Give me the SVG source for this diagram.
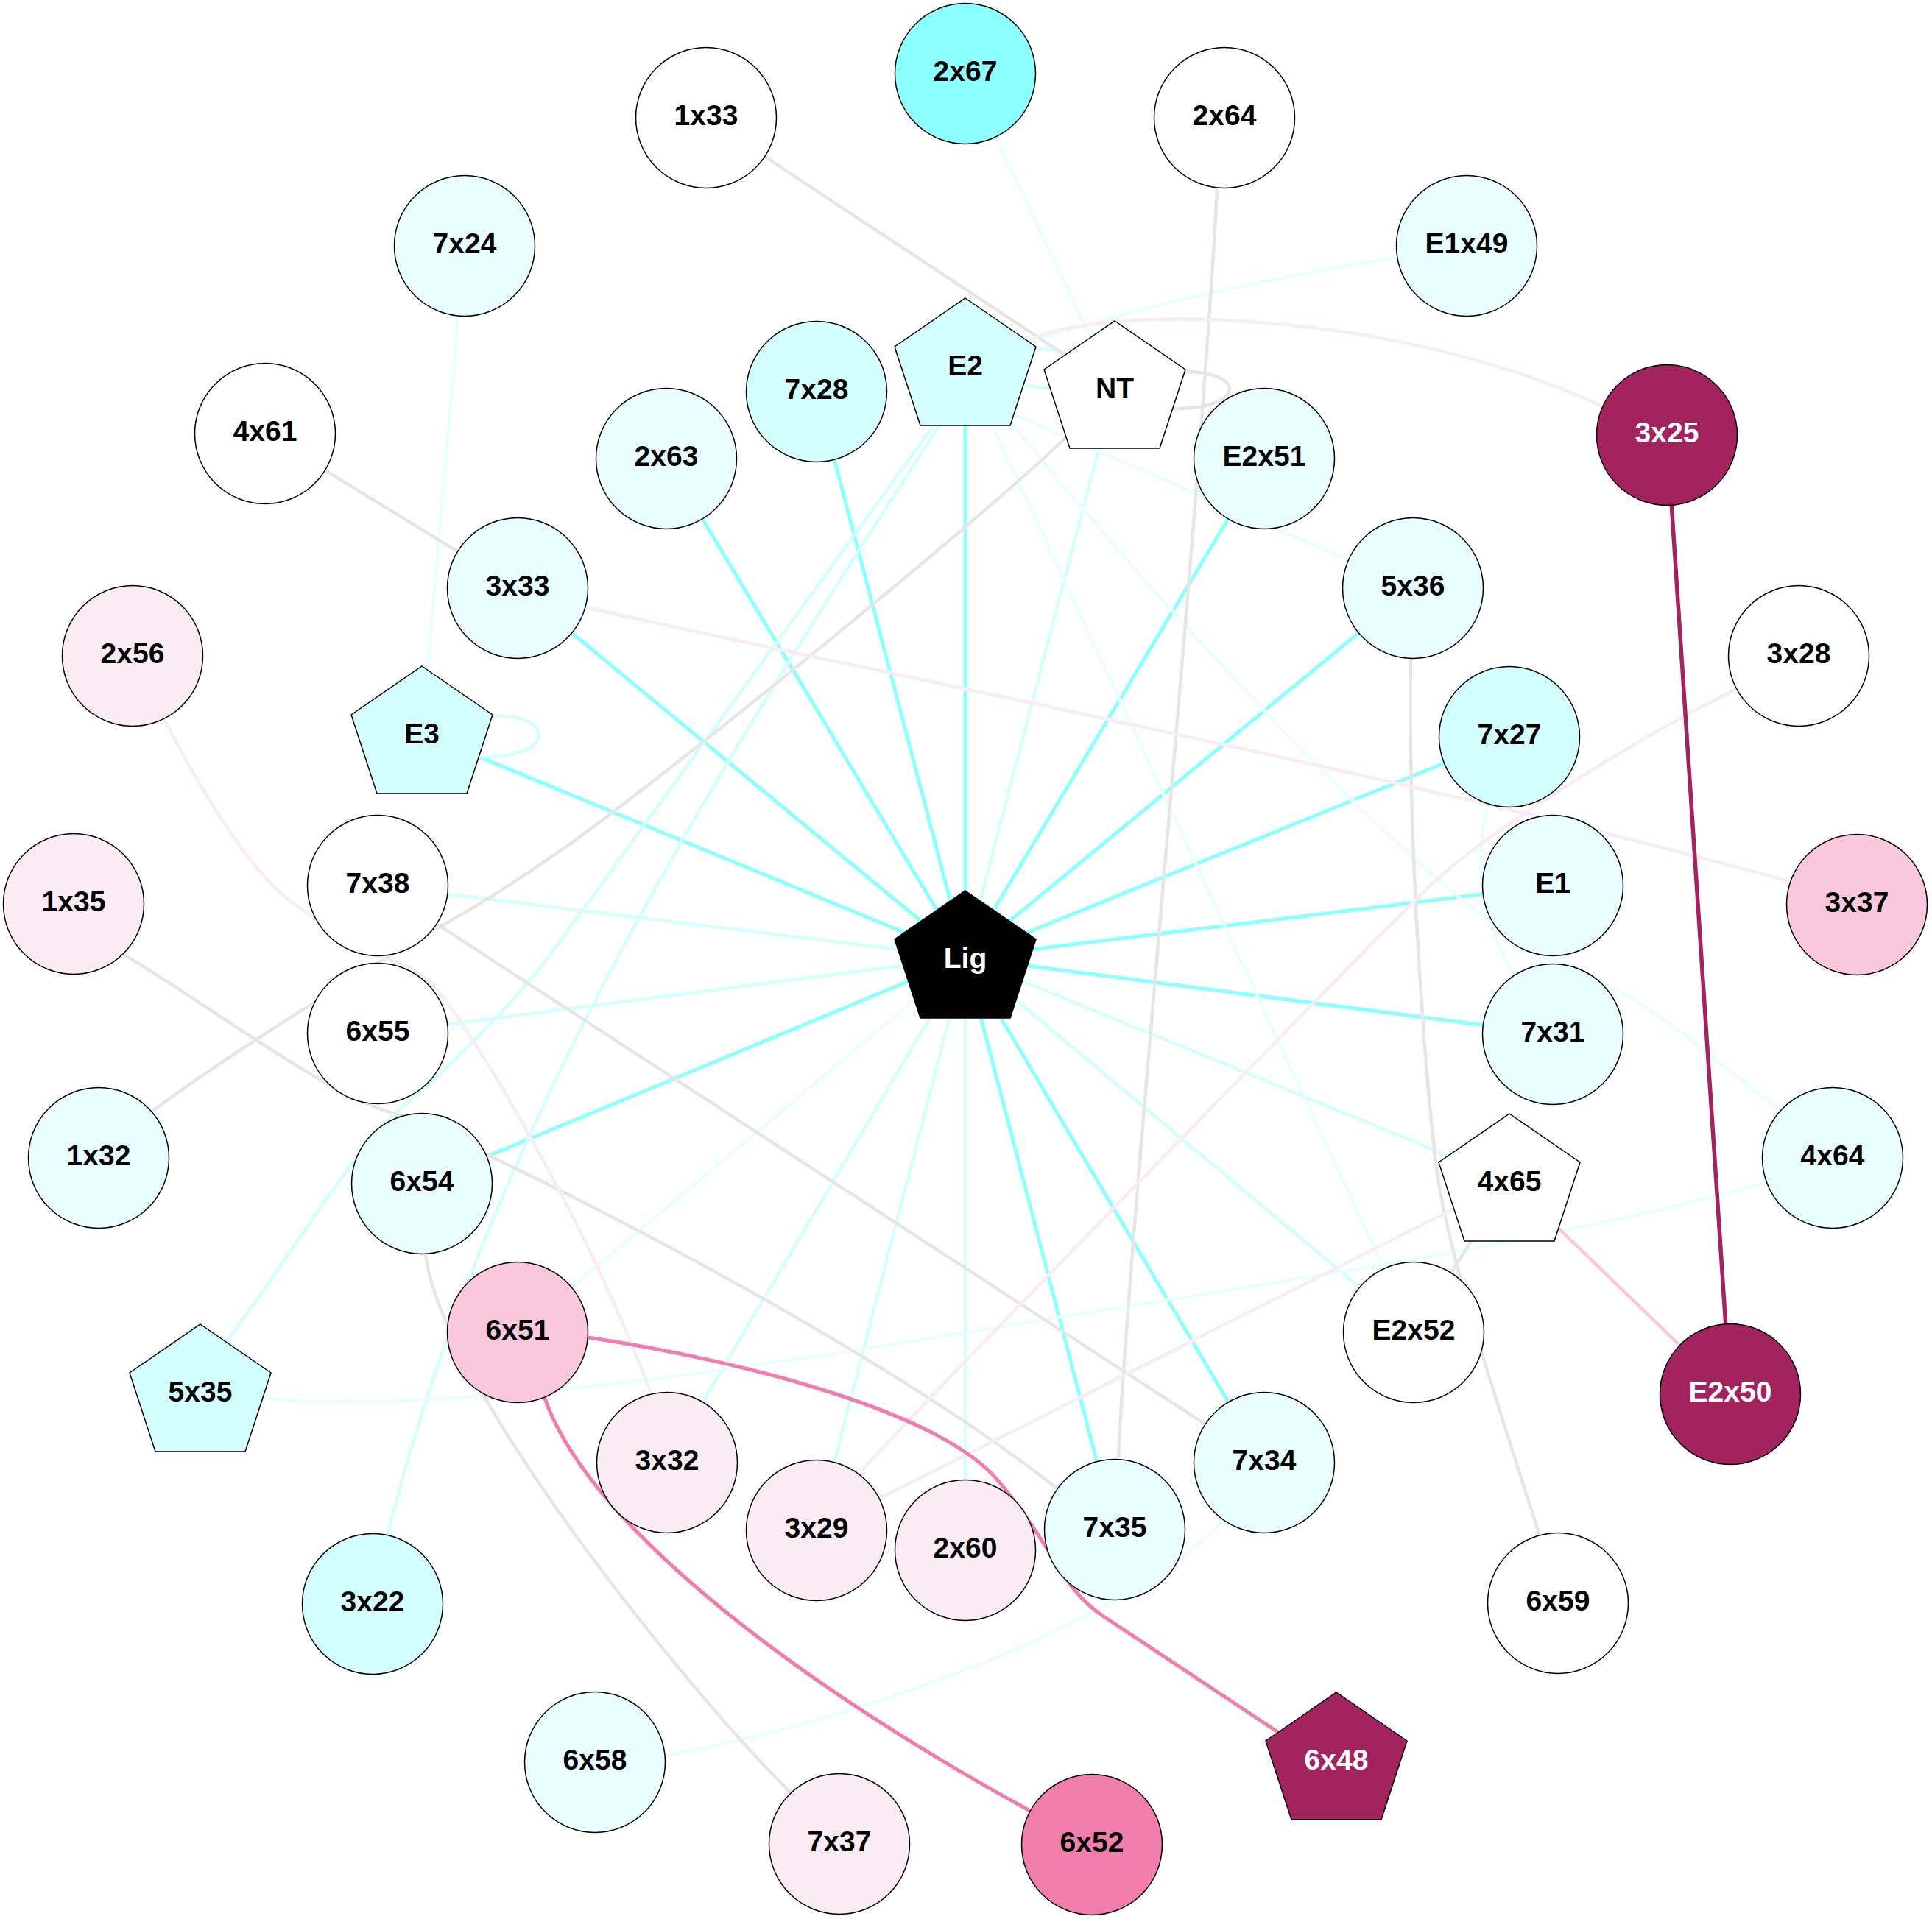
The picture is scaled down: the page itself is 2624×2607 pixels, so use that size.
<svg xmlns="http://www.w3.org/2000/svg" width="2624" height="2607" viewBox="0 0 2624 2607">
<style>
.e{fill:none;stroke-linecap:round}
.c1{stroke:#8CFFFF;stroke-width:5}
.c2{stroke:#D4FFFF;stroke-width:4.5}
.c3{stroke:#E9FFFF;stroke-width:4.5}
.g{stroke:#E6E6E6;stroke-width:4.5}
.p1{stroke:#FBEBF3;stroke-width:4.5}
.p2{stroke:#F9C8DD;stroke-width:4.5}
.p3{stroke:#F07DAC;stroke-width:5}
.p4{stroke:#A2235E;stroke-width:5.5}
.n{stroke:#000;stroke-width:1.5}
.t{font-family:"Liberation Sans",Arial,sans-serif;font-weight:bold;font-size:39px;text-anchor:middle;fill:#000}
.w{fill:#fff}
</style>
<rect width="2624" height="2607" fill="#fff"/>
<g id="edges">
<path class="e c2" d="M1311 1301L513 1203M1311 1301L513 1404M1311 1301L1514 527M1311 1301L2050 1604M1311 1301L1920 1810M1311 1301L1109 2079M1311 1301L1311 2106M1311 1301L906 1987"/>
<path class="e c3" d="M1311 1301L703 1810"/>
<path class="e c1" d="M1311 1301L573 996M1311 1301L703 799M1311 1301L905 623M1311 1301L1109 532M1311 1301L1311 496M1311 1301L1717 623M1311 1301L1919 799M1311 1301L2050 1001M1311 1301L2109 1203M1311 1301L2109 1405M1311 1301L573 1608M1311 1301L1717 1987M1311 1301L1514 2078"/>
<path class="e c2" d="M1268 578L760 1280C700 1363 600 1460 543 1507S400 1698 310 1820L290 1838"/>
<path class="e c2" d="M1276 578C930 1110 660 1560 528 2078L518 2122"/>
<path class="e c2" d="M669 973C750 968 762 1032 648 1028"/>
<path class="e c2" d="M1311 496Q1447 440 1514 527M1311 496Q1397 539 1514 527"/>
<path class="e c3" d="M1311 100L1514 527"/>
<path class="e c3" d="M1400 465Q1600 398 1896 350"/>
<path class="e c3" d="M1370 560L1919 799"/>
<path class="e c3" d="M1330 540L1920 1810"/>
<path class="e c3" d="M1370 570C1580 830 1960 1245 2109 1304S2314 1433 2414 1505L2440 1524"/>
<path class="e c3" d="M631 334L573 996"/>
<path class="e c3" d="M2396 1607C2096 1693 1650 1754 1350 1804S620 1922 360 1900"/>
<path class="e c3" d="M1662 2066C1520 2212 1150 2342 908 2384"/>
<path class="e c3" d="M2024 1081C2000 1160 2010 1250 2060 1330"/>
<path class="e g" d="M959 160L1514 527"/>
<path class="e g" d="M1608 505C1690 504 1695 555 1594 555"/>
<path class="e g" d="M1450 592C1340 700 899 1059 769 1150S600 1255 520 1304S300 1440 209 1508"/>
<path class="e g" d="M360 589L703 799"/>
<path class="e g" d="M1653 258C1630 700 1535 1650 1519 1979"/>
<path class="e g" d="M1916 894C1912 1150 1935 1450 1950 1580S2060 1985 2090 2083"/>
<path class="e g" d="M513 1203L1717 1987"/>
<path class="e g" d="M167 1296C267 1355 441 1484 521 1508S1150 1798 1433 2020"/>
<path class="e g" d="M578 1704C600 1888 950 2316 1075 2436"/>
<path class="e g" d="M2050 1604L1920 1810"/>
<path class="e p1" d="M1400 462C1490 415 1880 415 2174 551"/>
<path class="e p1" d="M799 826C1200 916 1900 1051 2429 1197"/>
<path class="e p1" d="M224 979C250 1030 330 1180 400 1228S480 1293 500 1297C520 1301 550 1305 583 1333C616 1361 780 1620 883 1889"/>
<path class="e p1" d="M2354 938C2234 998 2025 1125 1945 1201S1250 1910 1172 1996"/>
<path class="e p1" d="M2050 1604L1109 2079"/>
<path class="e p2" d="M2050 1604L2350 1894"/>
<path class="e p3" d="M739 1897C800 2077 1100 2297 1397 2459"/>
<path class="e p3" d="M799 1817C999 1847 1276 1916 1356 2012S1439 2156 1499 2196L1734 2352"/>
<path class="e p4" d="M2264 591L2350 1894"/>
</g>
<g id="n-1x33"><circle class="n" cx="959" cy="160" r="95.5" fill="#fff"/><text class="t" x="959" y="170">1x33</text></g>
<g id="n-2x67"><circle class="n" cx="1311" cy="100" r="95.5" fill="#8CFFFF"/><text class="t" x="1311" y="110">2x67</text></g>
<g id="n-2x64"><circle class="n" cx="1663" cy="160" r="95.5" fill="#fff"/><text class="t" x="1663" y="170">2x64</text></g>
<g id="n-7x24"><circle class="n" cx="631" cy="334" r="95.5" fill="#E9FFFF"/><text class="t" x="631" y="344">7x24</text></g>
<g id="n-E1x49"><circle class="n" cx="1992" cy="334" r="95.5" fill="#E9FFFF"/><text class="t" x="1992" y="344">E1x49</text></g>
<g id="n-7x28"><circle class="n" cx="1109" cy="532" r="95.5" fill="#D4FFFF"/><text class="t" x="1109" y="542">7x28</text></g>
<g id="n-4x61"><circle class="n" cx="360" cy="589" r="95.5" fill="#fff"/><text class="t" x="360" y="599">4x61</text></g>
<g id="n-3x25"><circle class="n" cx="2264" cy="591" r="95.5" fill="#A2235E"/><text class="t w" x="2264" y="601">3x25</text></g>
<g id="n-2x63"><circle class="n" cx="905" cy="623" r="95.5" fill="#E9FFFF"/><text class="t" x="905" y="633">2x63</text></g>
<g id="n-E2x51"><circle class="n" cx="1717" cy="623" r="95.5" fill="#E9FFFF"/><text class="t" x="1717" y="633">E2x51</text></g>
<g id="n-3x33"><circle class="n" cx="703" cy="799" r="95.5" fill="#E9FFFF"/><text class="t" x="703" y="809">3x33</text></g>
<g id="n-5x36"><circle class="n" cx="1919" cy="799" r="95.5" fill="#E9FFFF"/><text class="t" x="1919" y="809">5x36</text></g>
<g id="n-2x56"><circle class="n" cx="180" cy="891" r="95.5" fill="#FBEBF3"/><text class="t" x="180" y="901">2x56</text></g>
<g id="n-3x28"><circle class="n" cx="2443" cy="891" r="95.5" fill="#fff"/><text class="t" x="2443" y="901">3x28</text></g>
<g id="n-7x27"><circle class="n" cx="2050" cy="1001" r="95.5" fill="#D4FFFF"/><text class="t" x="2050" y="1011">7x27</text></g>
<g id="n-7x38"><circle class="n" cx="513" cy="1203" r="95.5" fill="#fff"/><text class="t" x="513" y="1213">7x38</text></g>
<g id="n-E1"><circle class="n" cx="2109" cy="1203" r="95.5" fill="#E9FFFF"/><text class="t" x="2109" y="1213">E1</text></g>
<g id="n-1x35"><circle class="n" cx="100" cy="1228" r="95.5" fill="#FBEBF3"/><text class="t" x="100" y="1238">1x35</text></g>
<g id="n-3x37"><circle class="n" cx="2522" cy="1229" r="95.5" fill="#F9C8DD"/><text class="t" x="2522" y="1239">3x37</text></g>
<g id="n-6x55"><circle class="n" cx="513" cy="1404" r="95.5" fill="#fff"/><text class="t" x="513" y="1414">6x55</text></g>
<g id="n-7x31"><circle class="n" cx="2109" cy="1405" r="95.5" fill="#E9FFFF"/><text class="t" x="2109" y="1415">7x31</text></g>
<g id="n-1x32"><circle class="n" cx="134" cy="1573" r="95.5" fill="#E9FFFF"/><text class="t" x="134" y="1583">1x32</text></g>
<g id="n-4x64"><circle class="n" cx="2489" cy="1573" r="95.5" fill="#E9FFFF"/><text class="t" x="2489" y="1583">4x64</text></g>
<g id="n-6x54"><circle class="n" cx="573" cy="1608" r="95.5" fill="#E9FFFF"/><text class="t" x="573" y="1618">6x54</text></g>
<g id="n-6x51"><circle class="n" cx="703" cy="1810" r="95.5" fill="#F9C8DD"/><text class="t" x="703" y="1820">6x51</text></g>
<g id="n-E2x52"><circle class="n" cx="1920" cy="1810" r="95.5" fill="#fff"/><text class="t" x="1920" y="1820">E2x52</text></g>
<g id="n-E2x50"><circle class="n" cx="2350" cy="1894" r="95.5" fill="#A2235E"/><text class="t w" x="2350" y="1904">E2x50</text></g>
<g id="n-3x32"><circle class="n" cx="906" cy="1987" r="95.5" fill="#FBEBF3"/><text class="t" x="906" y="1997">3x32</text></g>
<g id="n-7x34"><circle class="n" cx="1717" cy="1987" r="95.5" fill="#E9FFFF"/><text class="t" x="1717" y="1997">7x34</text></g>
<g id="n-3x29"><circle class="n" cx="1109" cy="2079" r="95.5" fill="#FBEBF3"/><text class="t" x="1109" y="2089">3x29</text></g>
<g id="n-7x35"><circle class="n" cx="1514" cy="2078" r="95.5" fill="#E9FFFF"/><text class="t" x="1514" y="2088">7x35</text></g>
<g id="n-2x60"><circle class="n" cx="1311" cy="2106" r="95.5" fill="#FBEBF3"/><text class="t" x="1311" y="2116">2x60</text></g>
<g id="n-3x22"><circle class="n" cx="506" cy="2179" r="95.5" fill="#D4FFFF"/><text class="t" x="506" y="2189">3x22</text></g>
<g id="n-6x59"><circle class="n" cx="2116" cy="2178" r="95.5" fill="#fff"/><text class="t" x="2116" y="2188">6x59</text></g>
<g id="n-6x58"><circle class="n" cx="808" cy="2394" r="95.5" fill="#E9FFFF"/><text class="t" x="808" y="2404">6x58</text></g>
<g id="n-7x37"><circle class="n" cx="1140" cy="2505" r="95.5" fill="#FBEBF3"/><text class="t" x="1140" y="2515">7x37</text></g>
<g id="n-6x52"><circle class="n" cx="1483" cy="2506" r="95.5" fill="#F07DAC"/><text class="t" x="1483" y="2516">6x52</text></g>
<g id="n-E2"><polygon class="n" points="1311,405 1407,471 1372,578 1250,578 1215,471" fill="#D4FFFF"/><text class="t" x="1311" y="510">E2</text></g>
<g id="n-NT"><polygon class="n" points="1514,436 1610,502 1575,609 1453,609 1418,502" fill="#fff"/><text class="t" x="1514" y="541">NT</text></g>
<g id="n-E3"><polygon class="n" points="573,905 669,971 634,1078 512,1078 477,971" fill="#D4FFFF"/><text class="t" x="573" y="1010">E3</text></g>
<g id="n-Lig"><polygon class="n" points="1311,1210 1407,1276 1372,1383 1250,1383 1215,1276" fill="#000"/><text class="t w" x="1311" y="1315">Lig</text></g>
<g id="n-4x65"><polygon class="n" points="2050,1513 2146,1579 2111,1686 1989,1686 1954,1579" fill="#fff"/><text class="t" x="2050" y="1618">4x65</text></g>
<g id="n-5x35"><polygon class="n" points="272,1799 368,1865 333,1972 211,1972 176,1865" fill="#D4FFFF"/><text class="t" x="272" y="1904">5x35</text></g>
<g id="n-6x48"><polygon class="n" points="1815,2299 1911,2365 1876,2472 1754,2472 1719,2365" fill="#A2235E"/><text class="t w" x="1815" y="2404">6x48</text></g>
</svg>
